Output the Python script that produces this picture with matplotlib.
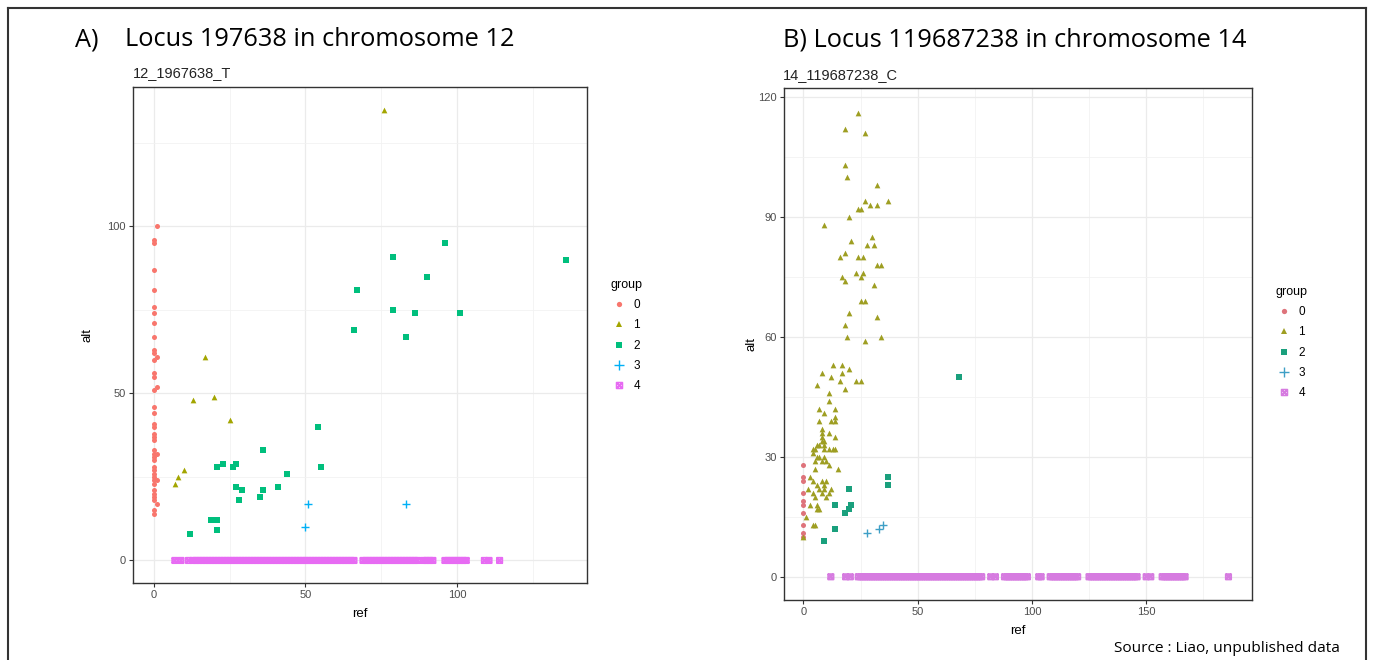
import numpy as np
import matplotlib.pyplot as plt
from matplotlib.path import Path
from matplotlib.lines import Line2D

plt.rcParams['font.family'] = ['Liberation Sans', 'DejaVu Sans']

groups = ['0', '1', '2', '3', '4']

# ---- A) 12_1967638_T : (ref, alt) per group ----
a_g0 = [(1, 100), (0, 96), (0, 95), (0, 87), (0, 81), (0, 76), (0, 74), (0, 71),
        (0, 67), (0, 63), (0, 62), (1, 61), (0, 60), (0, 56), (0, 55), (1, 52),
        (0, 51), (0, 46), (0, 44), (0, 41), (0, 40), (0, 38), (0, 37), (0, 36),
        (0, 33), (0, 32), (1, 32), (0, 31), (0, 30), (0, 28), (0, 27), (0, 26),
        (0, 25), (0, 24), (1, 24), (0, 23), (0, 21), (0, 20), (0, 19), (0, 18),
        (1, 17), (0, 15), (0, 14)]
a_g1 = [(76, 135), (17, 61), (13, 48), (20, 49), (25, 42), (10, 27), (8, 25), (7, 23)]
a_g2 = [(96, 95), (79, 91), (136, 90), (90, 85), (67, 81), (79, 75), (86, 74),
        (101, 74), (66, 69), (83, 67), (54, 40), (36, 33), (55, 28), (44, 26),
        (21, 28), (23, 29), (26, 28), (27, 29), (27, 22), (29, 21), (36, 21),
        (41, 22), (35, 19), (28, 18), (19, 12), (21, 12), (21, 9), (12, 8)]
a_g3 = [(51, 17), (83, 17), (50, 10)]
a_g4_ref = [7, 9, 11.5,
            13, 14, 15, 16, 17, 18, 19, 20, 21, 22, 23, 24, 25, 26,
            27, 28, 29, 30, 31, 32, 33, 34, 35, 36, 37, 38, 39, 40,
            41, 42, 43, 44, 45, 46, 47, 48, 49, 50, 51, 52, 53, 54,
            55, 56, 57, 58, 59, 60, 61, 62, 63, 64, 65, 66,
            69, 70, 71, 72, 73, 74, 75, 76, 77, 78, 79, 80, 81, 82, 83, 84, 85, 86, 87,
            89, 90, 91, 92,
            96, 97, 98, 99, 100, 101, 102, 103,
            109, 110.5, 114]

# ---- B) 14_119687238_C ----
b_g0 = [(0, 28), (0, 25), (0, 24), (0, 21), (0, 19), (0, 18), (0, 16), (0, 13),
        (0, 11), (0, 10)]
b_g1 = [(24, 116), (18, 112), (27, 111), (18, 103), (19, 100), (32, 98), (37, 94),
        (27, 94), (29, 93), (32, 93), (24, 92), (25, 92), (20, 90), (9, 88),
        (30, 85), (21, 84), (28, 83), (31, 83), (18, 81), (16, 80), (24, 80),
        (26, 80), (32, 78), (34, 78), (23, 76), (26, 76), (17, 75), (25, 75),
        (18, 74), (31, 73), (25, 69), (27, 69), (20, 66), (32, 65), (18, 63),
        (19, 60), (34, 60), (27, 59),
        (13, 53), (17, 53), (8, 51), (12, 50), (17, 51), (20, 52), (16, 49),
        (23, 49), (25, 49), (6, 48), (18, 47), (11, 46), (11, 44), (7, 42),
        (14, 42), (9, 41), (7, 39), (12, 39), (14, 40), (14, 39), (8, 37),
        (8, 36), (11, 36), (8, 35), (14, 35), (9, 34), (8, 34), (7, 33), (9, 33),
        (6, 33), (4, 32), (5, 32), (9, 32), (11, 32), (13, 32), (14, 32), (4, 31),
        (7, 30), (9, 30), (6, 30), (5, 29), (8, 29), (10, 29), (11, 28), (5, 27),
        (15, 27), (3, 25), (4, 24), (8, 24), (10, 24), (6, 23), (9, 23), (2, 22),
        (7, 22), (9, 22), (12, 22), (11, 21), (8, 21), (4, 21), (5, 20), (10, 20),
        (3, 18), (6, 18), (7, 17), (6, 17), (1, 15), (4, 13), (5, 13), (0, 10)]
b_g2 = [(68, 50), (37, 25), (37, 23), (20, 22), (14, 18), (21, 18), (20, 17),
        (18, 16), (14, 12), (9, 9)]
b_g3 = [(28, 11), (33, 12), (35, 13)]
b_g4_ref = [12, 18.5, 20.5,
            24, 25, 26, 27, 28, 29, 30, 31, 32, 33, 34, 35, 36, 37, 38, 39,
            40, 41, 42, 43, 44, 45, 46, 47, 48, 49, 50, 51, 52, 53, 54, 55,
            56, 57, 58, 59, 60, 61, 62, 63, 64, 65, 66, 67, 68, 69, 70, 71,
            72, 73, 74, 75, 76, 77, 78,
            82, 84,
            88, 89, 90, 91, 92, 93, 94, 95, 96, 97, 98,
            103, 104,
            108, 109, 110, 111, 112, 113, 114, 115, 116, 117, 118, 119, 120,
            125, 126, 127, 128, 129, 130, 131, 132, 133, 134, 135, 136, 137,
            138, 139, 140, 141, 142, 143, 144, 145, 146,
            150, 152,
            157, 158, 159, 160, 161, 162, 163, 164, 165, 166, 167,
            186]

cols_a = ['#F8766D', '#A3A500', '#00BF7D', '#00B0F6', '#E76BF3']
cols_b = ['#DE737B', '#9E9E22', '#1AA07D', '#3E9FC6', '#D67BE0']

# ggplot shape 7: square with a cross
sq_x = Path([(-1, -1), (1, -1), (1, 1), (-1, 1), (-1, -1),
             (-1, -1), (1, 1), (-1, 1), (1, -1)],
            [Path.MOVETO, Path.LINETO, Path.LINETO, Path.LINETO, Path.CLOSEPOLY,
             Path.MOVETO, Path.LINETO, Path.MOVETO, Path.LINETO])
markers = ['o', '^', 's', '+', sq_x]
sizes = [13, 17, 14, 40, 15]


def panel(ax, data, g4_ref, cols, xlim, ylim, xmaj, xmin, ymaj, ymin, xpad, ypad):
    for i, pts in enumerate(data):
        x, y = np.array(pts).T
        if markers[i] == '+':
            ax.scatter(x, y, marker='+', s=sizes[i], color=cols[i], linewidths=1.0, zorder=3)
        else:
            ax.scatter(x, y, marker=markers[i], s=sizes[i], color=cols[i], linewidths=0, zorder=3)
    ax.scatter(g4_ref, np.zeros(len(g4_ref)), marker=sq_x, s=sizes[4],
               facecolors='none', edgecolors=cols[4], linewidths=1.3, zorder=3)
    ax.set_xlim(xlim)
    ax.set_ylim(ylim)
    ax.set_xticks(xmaj)
    ax.set_xticks(xmin, minor=True)
    ax.set_yticks(ymaj)
    ax.set_yticks(ymin, minor=True)
    ax.grid(which='major', color='#EBEBEB', lw=0.9)
    ax.grid(which='minor', color='#F2F2F2', lw=0.6)
    ax.set_axisbelow(True)
    ax.tick_params(which='major', length=3, width=0.8, color='#333333',
                   labelsize=8, labelcolor='#4D4D4D', pad=2)
    ax.tick_params(which='minor', length=0)
    for s in ax.spines.values():
        s.set_color('#333333')
        s.set_linewidth(1.0)
    ax.set_xlabel('ref', fontsize=9.5, labelpad=xpad)
    ax.set_ylabel('alt', fontsize=9.5, labelpad=ypad)


def legend(ax, cols, anchor, fig):
    handles = []
    for i in range(5):
        if i == 4:
            h = Line2D([], [], ls='none', marker=sq_x, markersize=4.2,
                       markerfacecolor='none', markeredgecolor=cols[i], markeredgewidth=1.2)
        elif i == 3:
            h = Line2D([], [], ls='none', marker='+', markersize=6.5,
                       color=cols[i], markeredgewidth=1.0)
        else:
            h = Line2D([], [], ls='none', marker=markers[i], markersize=3.8,
                       color=cols[i], markeredgewidth=0)
        handles.append(h)
    lg = ax.legend(handles, groups, title='group', loc='upper left',
                   bbox_to_anchor=anchor, bbox_transform=fig.transFigure,
                   frameon=False, fontsize=8.5, title_fontsize=9,
                   borderpad=0, handlelength=1.4, handletextpad=0.5,
                   labelspacing=0.7, alignment='left')
    return lg


fig = plt.figure(figsize=(13.73, 6.6), dpi=100)
W, H = 1373.0, 660.0

axA = fig.add_axes([133 / W, 1 - 583 / H, (587 - 133) / W, (583 - 87) / H])
panel(axA, [a_g0, a_g1, a_g2, a_g3], a_g4_ref, cols_a,
      (-6.8, 142.8), (-6.75, 141.75), [0, 50, 100], [25, 75, 125],
      [0, 50, 100], [25, 75, 125], 6, 10)
legend(axA, cols_a, (605 / W, 1 - 273 / H), fig)

axB = fig.add_axes([784 / W, 1 - 600 / H, (1252 - 784) / W, (600 - 88) / H])
panel(axB, [b_g0, b_g1, b_g2, b_g3], b_g4_ref, cols_b,
      (-8.5, 196.3), (-5.8, 122.2), [0, 50, 100, 150], [25, 75, 125, 175],
      [0, 30, 60, 90, 120], [15, 45, 75, 105], 6, 1)
legend(axB, cols_b, (1270 / W, 1 - 280 / H), fig)

# headings
fig.text(75 / W, 1 - 40 / H, 'A)', fontsize=18.3, family='Open Sans', va='center')
fig.text(125 / W, 1 - 40 / H, 'Locus 197638 in chromosome 12', fontsize=18.3,
         family='Open Sans', va='center')
fig.text(783 / W, 1 - 40 / H, 'B) Locus 119687238 in chromosome 14', fontsize=18.3,
         family='Open Sans', va='center')
fig.text(133 / W, 1 - 73 / H, '12_1967638_T', fontsize=10.5, va='center', color='#222222')
fig.text(783 / W, 1 - 75 / H, '14_119687238_C', fontsize=10.5, va='center', color='#222222')
fig.text(1340 / W, 1 - 648 / H, 'Source : Liao, unpublished data', fontsize=11.1,
         family='Open Sans', ha='right', va='center')

# outer frame
frame = dict(transform=fig.transFigure, color='#333333', lw=1.5)
fig.add_artist(Line2D([8 / W, 8 / W], [0, 1 - 8 / H], **frame))
fig.add_artist(Line2D([8 / W, 1366 / W], [1 - 8 / H, 1 - 8 / H], **frame))
fig.add_artist(Line2D([1366 / W, 1366 / W], [0, 1 - 8 / H], **frame))

fig.savefig('out.png', dpi=100)
